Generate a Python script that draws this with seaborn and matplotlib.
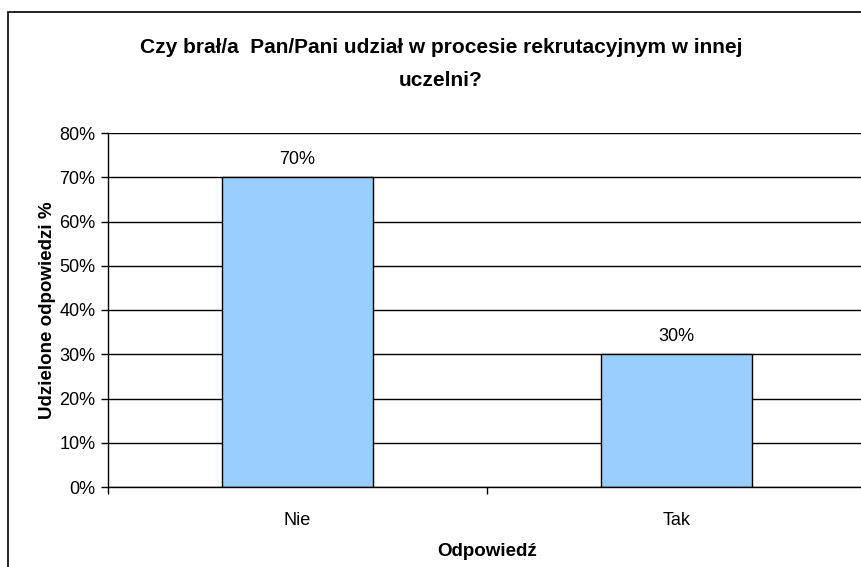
import matplotlib
matplotlib.use('Agg')
import matplotlib.pyplot as plt
import seaborn as sns
import pandas as pd
from matplotlib.patches import Rectangle
from matplotlib.ticker import PercentFormatter

# dane z wykresu
odpowiedzi = ['Nie', 'Tak']
procent = [70, 30]
etykiety = ['70%', '30%']

df = pd.DataFrame({'odpowiedz': odpowiedzi, 'procent': procent})

sns.set_style('white')
plt.rcParams['font.family'] = ['Liberation Sans', 'DejaVu Sans']
plt.rcParams['text.color'] = 'black'
plt.rcParams['axes.labelcolor'] = 'black'
plt.rcParams['xtick.color'] = 'black'
plt.rcParams['ytick.color'] = 'black'

fig = plt.figure(figsize=(8.62, 5.67), dpi=100)
ax = fig.add_axes([108 / 862, 80 / 567, 758 / 862, 354 / 567])

sns.barplot(data=df, x='odpowiedz', y='procent', color='#99CCFF',
            edgecolor='black', linewidth=1, width=0.4, saturation=1, ax=ax)

# siatka pozioma
ax.set_ylim(0, 80)
ax.set_yticks(range(0, 81, 10))
ax.yaxis.set_major_formatter(PercentFormatter(decimals=0))
ax.grid(axis='y', color='black', linewidth=1)
ax.set_axisbelow(True)

# podziałki osi x pomiędzy kategoriami
ax.set_xlim(-0.5, 1.5)
ax.set_xticks([-0.5, 0.5, 1.5])
ax.set_xticklabels(['', '', ''])
ax.set_xticks([0, 1], minor=True)
ax.set_xticklabels(odpowiedzi, minor=True)
ax.tick_params(axis='x', which='minor', length=0, pad=18, labelsize=13)
ax.tick_params(axis='x', which='major', length=5, width=1, direction='out')
ax.tick_params(axis='y', length=5, width=1, direction='out', labelsize=13, pad=4)
ax.xaxis.set_ticks_position('bottom')
ax.yaxis.set_ticks_position('left')

for s in ['top', 'right']:
    ax.spines[s].set_visible(False)
for s in ['left', 'bottom']:
    ax.spines[s].set_color('black')
    ax.spines[s].set_linewidth(1)

# etykiety nad słupkami
for i, (v, t) in enumerate(zip(procent, etykiety)):
    ax.text(i, v + 4, t, ha='center', va='center', fontsize=13)

ax.set_xlabel('Odpowiedź', fontsize=13.5, fontweight='bold', labelpad=10)
ax.set_ylabel('Udzielone odpowiedzi %', fontsize=13.5, fontweight='bold', labelpad=2)

fig.text(441 / 862, 1 - 64 / 567,
         'Czy brał/a  Pan/Pani udział w procesie rekrutacyjnym w innej\nuczelni?',
         ha='center', va='center', fontsize=15, fontweight='bold', linespacing=1.9)

# ramka wykresu
fig.patches.append(Rectangle((8 / 862, -0.05), 1.0, 1 - 12 / 567 + 0.05,
                             transform=fig.transFigure, fill=False,
                             edgecolor='black', linewidth=1.2))

fig.savefig('out.png', dpi=100)
